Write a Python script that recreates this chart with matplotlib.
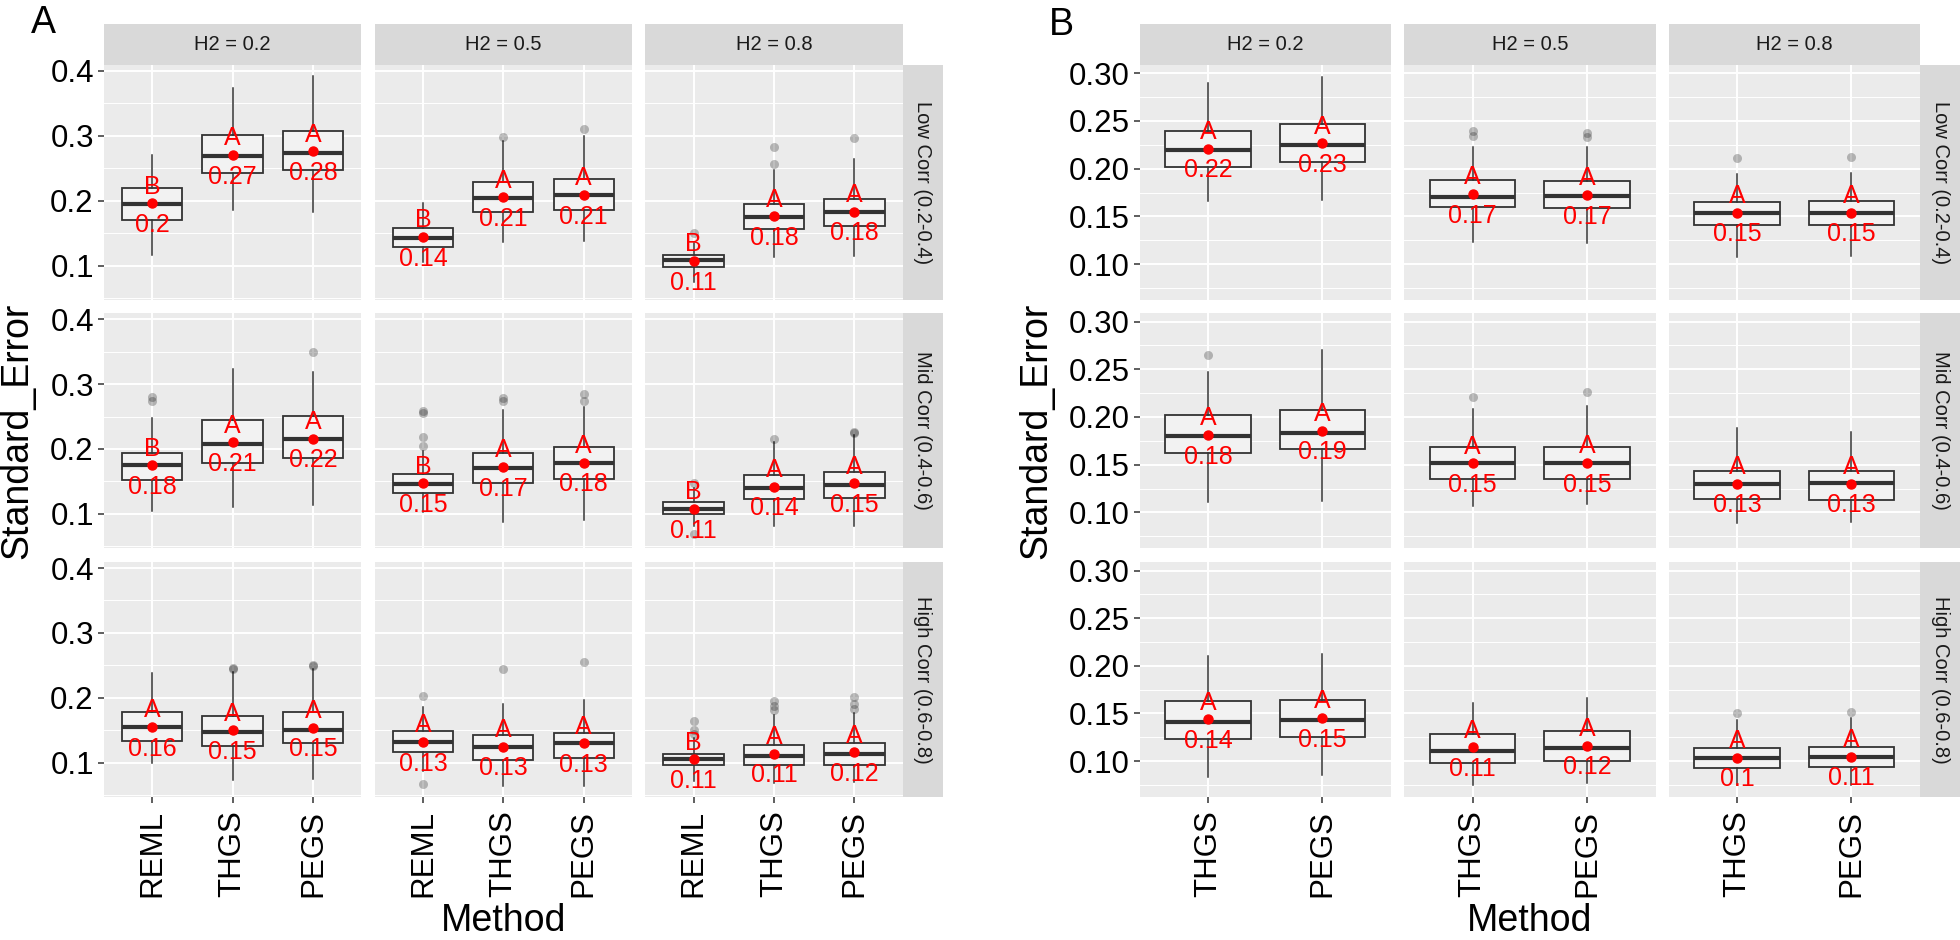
import matplotlib
matplotlib.use("Agg")
import matplotlib.pyplot as plt
import numpy as np

plt.rcParams['font.family'] = ['Liberation Sans', 'DejaVu Sans']

methods_a = ['REML', 'THGS', 'PEGS']
methods_b = ['THGS', 'PEGS']
h2_labels = ['H2 = 0.2', 'H2 = 0.5', 'H2 = 0.8']
corr_labels = ['Low Corr (0.2-0.4)', 'Mid Corr (0.4-0.6)', 'High Corr (0.6-0.8)']

# panel A, indexed [corr row][h2 col][method]
a_lo = [[[.117, .185, .182], [.106, .137, .138], [.075, .113, .115]],
        [[.105, .110, .114], [.103, .088, .090], [.082, .081, .082]],
        [[.100, .074, .075], [.087, .064, .064], [.072, .069, .070]]]
a_q1 = [[[.171, .242, .247], [.129, .182, .186], [.0985, .157, .161]],
        [[.153, .179, .186], [.133, .147, .154], [.0995, .123, .125]],
        [[.133, .126, .130], [.116, .104, .108], [.096, .096, .097]]]
a_med = [[[.195, .269, .274], [.143, .204, .208], [.108, .175, .183]],
         [[.176, .208, .216], [.146, .170, .178], [.108, .140, .144]],
         [[.155, .148, .151], [.132, .125, .130], [.106, .110, .113]]]
a_q3 = [[[.220, .301, .307], [.158, .228, .233], [.1165, .195, .203]],
        [[.194, .245, .251], [.161, .194, .203], [.118, .160, .165]],
        [[.178, .172, .178], [.149, .142, .146], [.114, .127, .130]]]
a_hi = [[[.270, .373, .392], [.197, .292, .300], [.135, .247, .264]],
        [[.248, .323, .318], [.197, .260, .265], [.140, .210, .221]],
        [[.239, .240, .244], [.186, .190, .197], [.138, .173, .177]]]
a_mean = [[[.196, .270, .276], [.144, .205, .209], [.107, .176, .183]],
          [[.175, .210, .216], [.147, .172, .179], [.108, .142, .147]],
          [[.155, .150, .154], [.132, .125, .130], [.105, .114, .116]]]
a_out = [[[[], [], []], [[], [.298], [.311]], [[.150], [.256, .282], [.296]]],
         [[[.274, .280], [], [.350]], [[.205, .219, .256, .259], [.274, .278], [.274, .285]],
          [[.069, .148], [.215], [.225, .226]]],
         [[[], [.245, .246], [.249, .250]], [[.067, .2025], [.245], [.255]],
          [[.144, .151, .165], [.182, .187, .195], [.183, .190, .2015]]]]
a_letter = [[['B', 'A', 'A'], ['B', 'A', 'A'], ['B', 'A', 'A']],
            [['B', 'A', 'A'], ['B', 'A', 'A'], ['B', 'A', 'A']],
            [['A', 'A', 'A'], ['A', 'A', 'A'], ['B', 'A', 'A']]]
a_label = [[['0.2', '0.27', '0.28'], ['0.14', '0.21', '0.21'], ['0.11', '0.18', '0.18']],
           [['0.18', '0.21', '0.22'], ['0.15', '0.17', '0.18'], ['0.11', '0.14', '0.15']],
           [['0.16', '0.15', '0.15'], ['0.13', '0.13', '0.13'], ['0.11', '0.11', '0.12']]]

# panel B
b_lo = [[[.166, .167], [.1235, .1218], [.1078, .1085]],
        [[.111, .112], [.1067, .1085], [.0886, .0896]],
        [[.0837, .0854], [.075, .0767], [.075, .075]]]
b_q1 = [[[.202, .2067], [.160, .1585], [.1407, .1407]],
        [[.162, .166], [.1347, .1347], [.1137, .113]],
        [[.1229, .1256], [.0983, .1004], [.0931, .0941]]]
b_med = [[[.2196, .225], [.1707, .1717], [.1539, .1539]],
         [[.180, .183], [.1515, .152], [.1298, .1305]],
         [[.1413, .1431], [.1109, .1134], [.103, .104]]]
b_q3 = [[[.2395, .2465], [.188, .187], [.1654, .1661]],
        [[.202, .2073], [.168, .1686], [.1437, .1437]],
        [[.1633, .164], [.1284, .1319], [.1134, .1151]]]
b_hi = [[[.2895, .2965], [.223, .223], [.1944, .1952]],
        [[.2475, .270], [.208, .2115], [.1881, .184]],
        [[.210, .2123], [.1606, .1658], [.143, .1448]]]
b_mean = [[[.221, .2266], [.1735, .1724], [.154, .154]],
          [[.181, .1856], [.1515, .152], [.130, .130]],
          [[.1438, .1455], [.1145, .1162], [.1036, .1046]]]
b_out = [[[[], []], [[.2346, .2395], [.2336, .2378]], [[.211], [.212]]],
         [[[.265], []], [[.2213], [.2265]], [[], []]],
         [[[], []], [[], []], [[.150], [.1518]]]]
b_letter = [[['A', 'A'], ['A', 'A'], ['A', 'A']],
            [['A', 'A'], ['A', 'A'], ['A', 'A']],
            [['A', 'A'], ['A', 'A'], ['A', 'A']]]
b_label = [[['0.22', '0.23'], ['0.17', '0.17'], ['0.15', '0.15']],
           [['0.18', '0.19'], ['0.15', '0.15'], ['0.13', '0.13']],
           [['0.14', '0.15'], ['0.11', '0.12'], ['0.1', '0.11']]]

W, H = 1960, 940
fig = plt.figure(figsize=(W / 100, H / 100), dpi=100)

ROWS = [(65, 300), (313.3, 548.3), (562.3, 797)]
STRIP_TOP = 24
STRIP_W = 40


def px_axes(x0, y0, x1, y1):
    return fig.add_axes([x0 / W, 1 - y1 / H, (x1 - x0) / W, (y1 - y0) / H])


def draw_facets(methods, stats, col_left, col_w, gap, ylim, major, minor, fmt):
    lo, q1, med, q3, hi, mean, out, letter, label = stats
    n = len(methods)
    pos = np.arange(1, n + 1)
    for r, (y0, y1) in enumerate(ROWS):
        for c in range(3):
            x0 = col_left + c * (col_w + gap)
            ax = px_axes(x0, y0, x0 + col_w, y1)
            ax.set_facecolor('#EBEBEB')
            for s in ax.spines.values():
                s.set_visible(False)
            ax.set_xlim(0.4, n + 0.6)
            ax.set_ylim(*ylim)
            ax.set_xticks(pos)
            ax.set_yticks(major)
            ax.set_yticks(minor, minor=True)
            ax.grid(which='major', color='white', lw=1.4)
            ax.grid(which='minor', axis='y', color='white', lw=0.7)
            ax.set_axisbelow(True)
            ax.tick_params(which='minor', length=0)

            bstats = []
            for m in range(n):
                bstats.append(dict(med=med[r][c][m], q1=q1[r][c][m], q3=q3[r][c][m],
                                   whislo=lo[r][c][m], whishi=hi[r][c][m],
                                   fliers=out[r][c][m]))
            ax.bxp(bstats, positions=pos, widths=0.75, patch_artist=True,
                   showcaps=False, manage_ticks=False,
                   boxprops=dict(facecolor='#F2F2F2', edgecolor='#333333', linewidth=1.3),
                   medianprops=dict(color='#333333', linewidth=3),
                   whiskerprops=dict(color='#333333', linewidth=1.1),
                   flierprops=dict(marker='o', markerfacecolor='black', markeredgewidth=0,
                                   alpha=0.25, markersize=6.5))
            ax.plot(pos, mean[r][c], 'o', color='#FF0000', ms=6.5, zorder=4)
            for m in range(n):
                ax.annotate(letter[r][c][m], (pos[m], mean[r][c][m]), xytext=(0, 7),
                            textcoords='offset points', ha='center', va='baseline',
                            color='#FF0000', fontsize=18, zorder=5)
                ax.annotate(label[r][c][m], (pos[m], mean[r][c][m]), xytext=(0, -20.7),
                            textcoords='offset points', ha='center', va='baseline',
                            color='#FF0000', fontsize=18, zorder=5)

            if c == 0:
                ax.set_yticklabels([fmt.format(v) for v in major])
                ax.tick_params(axis='y', labelsize=22.5, length=4.3, width=1.1,
                               color='#333333', labelcolor='black', pad=3)
            else:
                ax.tick_params(axis='y', length=0, labelleft=False)
            if r == 2:
                ax.set_xticklabels(methods, rotation=90)
                ax.tick_params(axis='x', labelsize=22.5, length=4.3, width=1.1,
                               color='#333333', labelcolor='black', pad=5)
            else:
                ax.tick_params(axis='x', length=0, labelbottom=False)

    # facet strips
    for c in range(3):
        x0 = col_left + c * (col_w + gap)
        sax = px_axes(x0, STRIP_TOP, x0 + col_w, ROWS[0][0])
        sax.set_facecolor('#D9D9D9')
        sax.set_xticks([])
        sax.set_yticks([])
        for s in sax.spines.values():
            s.set_visible(False)
        sax.text(0.5, 0.5, h2_labels[c], ha='center', va='center', fontsize=14.5,
                 color='#1A1A1A', transform=sax.transAxes)
    right = col_left + 3 * col_w + 2 * gap
    for r, (y0, y1) in enumerate(ROWS):
        sax = px_axes(right, y0, right + STRIP_W, y1)
        sax.set_facecolor('#D9D9D9')
        sax.set_xticks([])
        sax.set_yticks([])
        for s in sax.spines.values():
            s.set_visible(False)
        sax.text(0.5, 0.5, corr_labels[r], ha='center', va='center', fontsize=14.5,
                 rotation=270, color='#1A1A1A', transform=sax.transAxes)
    return (col_left + right) / 2


stats_a = (a_lo, a_q1, a_med, a_q3, a_hi, a_mean, a_out, a_letter, a_label)
stats_b = (b_lo, b_q1, b_med, b_q3, b_hi, b_mean, b_out, b_letter, b_label)

mid_a = draw_facets(methods_a, stats_a, 104, 257.2, 13.5, (0.0472, 0.4088),
                    [0.1, 0.2, 0.3, 0.4], [0.05, 0.15, 0.25, 0.35], '{:.1f}')
mid_b = draw_facets(methods_b, stats_b, 1139.5, 251.5, 13, (0.0623, 0.3087),
                    [0.10, 0.15, 0.20, 0.25, 0.30], [0.075, 0.125, 0.175, 0.225, 0.275],
                    '{:.2f}')

# titles and panel tags
for mid in (mid_a, mid_b):
    fig.text(mid / W, 1 - 931 / H, 'Method', ha='center', va='baseline', fontsize=27)
fig.text(17 / W, 1 - 431 / H, 'Standard_Error', rotation=90, ha='center', va='center',
         fontsize=27)
fig.text(1036 / W, 1 - 431 / H, 'Standard_Error', rotation=90, ha='center', va='center',
         fontsize=27)
fig.text(31 / W, 1 - 33 / H, 'A', ha='left', va='baseline', fontsize=27)
fig.text(1049 / W, 1 - 35 / H, 'B', ha='left', va='baseline', fontsize=27)

fig.savefig('out.png', dpi=100, facecolor='white')
